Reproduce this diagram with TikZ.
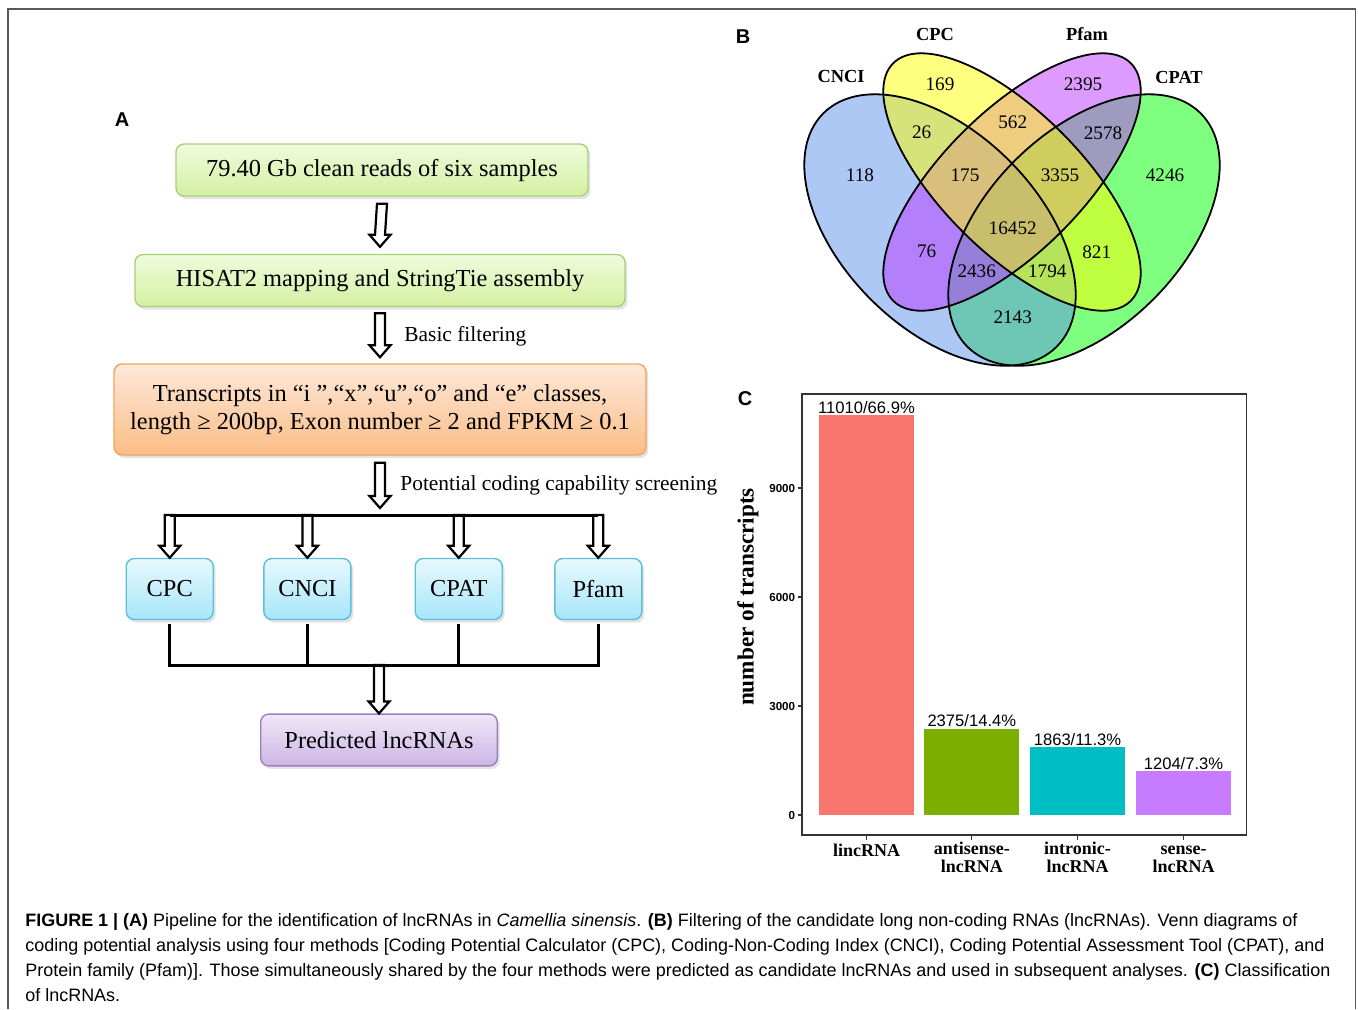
\documentclass[tikz,border=0pt]{standalone}
\usepackage{fontspec}
\setmainfont{Liberation Serif}
\setsansfont{Liberation Sans}
\usetikzlibrary{calc,positioning,shadows}

\definecolor{greentop}{HTML}{F0FBDC}
\definecolor{greenbot}{HTML}{D3F0A2}
\definecolor{greenedge}{HTML}{A9CF7C}
\definecolor{orangetop}{HTML}{FDE9DA}
\definecolor{orangebot}{HTML}{FBBD86}
\definecolor{orangeedge}{HTML}{F3A35C}
\definecolor{cyantop}{HTML}{E8F8FD}
\definecolor{cyanbot}{HTML}{A6E6FA}
\definecolor{cyanedge}{HTML}{5DBFD9}
\definecolor{lilactop}{HTML}{F0E7F7}
\definecolor{lilacbot}{HTML}{CDB5E6}
\definecolor{lilacedge}{HTML}{9B7FC0}
\definecolor{cncifill}{rgb}{0.36,0.57,0.92}
\definecolor{cpcfill}{rgb}{1,1,0}
\definecolor{pfamfill}{rgb}{0.74,0.22,1}
\definecolor{cpatfill}{rgb}{0,1,0}
\definecolor{lincbar}{HTML}{F8766D}
\definecolor{antibar}{HTML}{7CAE00}
\definecolor{intronbar}{HTML}{00BFC4}
\definecolor{sensebar}{HTML}{C77CFF}

\tikzset{
  flowbox/.style={draw, rounded corners=4pt, line width=0.7pt, align=center,
    inner sep=0pt, font=\fontsize{12.2}{14.2}\selectfont,
    drop shadow={opacity=0.22, shadow xshift=1.2pt, shadow yshift=-1.5pt}},
  greenbox/.style={flowbox, draw=greenedge, top color=greentop, bottom color=greenbot},
  orangebox/.style={flowbox, draw=orangeedge, top color=orangetop, bottom color=orangebot},
  toolbox/.style={flowbox, draw=cyanedge, top color=cyantop, bottom color=cyanbot,
    minimum width=43.5pt, minimum height=30.5pt},
  lilacbox/.style={flowbox, draw=lilacedge, top color=lilactop, bottom color=lilacbot},
  arrowline/.style={draw=black, line width=1.1pt, fill=white, line join=miter},
  barline/.style={line width=1.5pt},
  steplabel/.style={anchor=base west, inner sep=0pt, font=\fontsize{10.7}{13}\selectfont},
  panellabel/.style={font=\sffamily\bfseries\fontsize{10}{12}\selectfont},
  setname/.style={font=\bfseries\fontsize{9.2}{11}\selectfont},
  vnum/.style={font=\fontsize{9.6}{11}\selectfont},
  barval/.style={font=\sffamily\fontsize{8.3}{10}\selectfont, inner sep=0.6pt, anchor=south},
  ticklab/.style={font=\sffamily\bfseries\fontsize{5.8}{7}\selectfont, anchor=east, inner sep=0pt},
  catlab/.style={font=\bfseries\fontsize{9}{9.2}\selectfont, anchor=base, inner sep=0pt},
  captionline/.style={anchor=base west, inner sep=0pt, font=\sffamily\fontsize{8.98}{10}\selectfont}
}

% hollow block arrow, pointing down
\newcommand{\hollowarrow}[3][7]{%
  \draw[arrowline] ($(#2)+(-5,#1)$) -- ($(#3)+(-5,-#1-12)$)
    -- ($(#3)+(-10.5,-#1-12)$) -- ($(#3)+(0,-#1)$) -- ($(#3)+(10.5,-#1-12)$)
    -- ($(#3)+(5,-#1-12)$) -- ($(#2)+(5,#1)$) -- cycle;}

\begin{document}
\begin{tikzpicture}[x=0.5pt, y=-0.5pt]
  \useasboundingbox (0,0) rectangle (1358,1009);
  \draw[black!65, line width=0.8pt] (8,1009) -- (8,9) -- (1355.5,9) -- (1355.5,1009);

  % A: pipeline
  \node[panellabel] (labA) at (122,120) {A};
  \node[greenbox, minimum width=206pt, minimum height=26pt] (reads) at (382,170)
    {79.40 Gb clean reads of six samples};
  \node[greenbox, minimum width=245pt, minimum height=26pt] (mapping) at (380,280.5)
    {HISAT2 mapping and StringTie assembly};
  \node[orangebox, minimum width=266pt, minimum height=45.5pt] (filter) at (380,409.5)
    {Transcripts in “i ”,“x”,“u”,“o” and “e” classes,\\
     length ≥ 200bp, Exon number ≥ 2 and FPKM ≥ 0.1};
  \node[toolbox] (cpc) at (169.75,589) {CPC};
  \node[toolbox] (cnci) at (307.4,589) {CNCI};
  \node[toolbox] (cpat) at (458.75,589) {CPAT};
  \node[toolbox] (pfam) at (598.3,589) {Pfam};
  \node[lilacbox, minimum width=118.3pt, minimum height=25.9pt] (predicted) at (379,740)
    {Predicted lncRNAs};

  \coordinate (split) at (380,515);
  \coordinate (merge) at (379,665);
  \foreach \t in {cpc,cnci,cpat,pfam}
    \coordinate (\t top) at (\t.north |- split);

  \hollowarrow{reads.south}{mapping.north}
  \hollowarrow[6]{mapping.south}{filter.north}
  \hollowarrow{filter.south}{split}
  \foreach \t in {cpc,cnci,cpat,pfam}{
    \hollowarrow[0]{\t top}{\t.north}
  }
  \hollowarrow[0]{merge}{predicted.north}

  \draw[barline] (cpctop) -- (pfamtop);
  \draw[barline] ([yshift=-2pt]cpc.south) |- (merge) -| ([yshift=-2pt]pfam.south);
  \draw[barline] ([yshift=-2pt]cnci.south) -- (cnci.south |- merge);
  \draw[barline] ([yshift=-2pt]cpat.south) -- (cpat.south |- merge);

  \node[steplabel] (basic) at (404,341.7) {Basic filtering};
  \node[steplabel] (screen) at (400,490) {Potential coding capability screening};

  % B: Venn diagram
  \node[panellabel] (labB) at (743,37) {B};
  \begin{scope}[fill opacity=0.5]
    \fill[cpatfill, rotate around={45:(1084,230)}] (1084,230) ellipse [x radius=165, y radius=98];
    \fill[cncifill, rotate around={-45:(940,230)}] (940,230) ellipse [x radius=165, y radius=98];
    \fill[pfamfill, rotate around={45:(1012,182)}] (1012,182) ellipse [x radius=168, y radius=70];
    \fill[cpcfill, rotate around={-45:(1012,182)}] (1012,182) ellipse [x radius=168, y radius=70];
  \end{scope}
  \begin{scope}[line width=0.9pt]
    \draw[rotate around={45:(1084,230)}] (1084,230) ellipse [x radius=165, y radius=98];
    \draw[rotate around={-45:(940,230)}] (940,230) ellipse [x radius=165, y radius=98];
    \draw[rotate around={45:(1012,182)}] (1012,182) ellipse [x radius=168, y radius=70];
    \draw[rotate around={-45:(1012,182)}] (1012,182) ellipse [x radius=168, y radius=70];
  \end{scope}
  \node[setname] (nCNCI) at (841,76) {CNCI};
  \node[setname] (nCPC) at (935,34) {CPC};
  \node[setname] (nPfam) at (1087,34) {Pfam};
  \node[setname] (nCPAT) at (1179,77) {CPAT};
  \foreach \vx/\vy/\num in {940/84/169, 1083/84/2395, 1012.7/122.7/562, 921.7/132.7/26,
      1103/132.7/2578, 860/175/118, 965/175/175, 1060/175/3355, 1165/175/4246,
      1012.7/228.3/16452, 926.7/251.7/76, 1096.7/251.7/821, 976.7/271.7/2436,
      1047.3/271.7/1794, 1012.7/317.3/2143}
    \node[vnum] (v\num) at (\vx,\vy) {\num};

  % C: bar chart
  \node[panellabel] (labC) at (745,399) {C};
  \draw[black!80, line width=0.55pt] (802,394) rectangle (1246.5,835);
  \foreach \bx/\val/\pct/\col in {819/11010/66.9/lincbar, 924.3/2375/14.4/antibar,
      1030/1863/11.3/intronbar, 1136/1204/7.3/sensebar} {
    \fill[\col] (\bx,815) rectangle ({\bx+95},{815-\val*0.036333});
    \node[barval] at ({\bx+47.5},{815-\val*0.036333}) {\val/\pct\%};
    \draw[black!80, line width=0.55pt] ({\bx+47.5},835) -- ({\bx+47.5},840);
  }
  \foreach \t in {0,3000,6000,9000} {
    \draw[black!80, line width=0.55pt] (797.5,{815-\t*0.036333}) -- (802,{815-\t*0.036333});
    \node[ticklab] at (795.5,{815-\t*0.036333}) {\t};
  }
  \node[catlab] (cLinc) at (866.5,856.7) {lincRNA};
  \node[catlab] (cAnti) at (971.8,854.3) {antisense-};
  \node[catlab] (cAnti2) at (971.8,872.7) {lncRNA};
  \node[catlab] (cIntr) at (1077.5,854.3) {intronic-};
  \node[catlab] (cIntr2) at (1077.5,872.7) {lncRNA};
  \node[catlab] (cSens) at (1183.5,854.3) {sense-};
  \node[catlab] (cSens2) at (1183.5,872.7) {lncRNA};
  \node[rotate=90, font=\bfseries\fontsize{11.6}{13}\selectfont] (ytitle) at (748,597)
    {number of transcripts};

  % caption
  \node[captionline] (cap1) at (25,926.5) {\textbf{FIGURE 1 | (A)} Pipeline for the identification of lncRNAs in \textit{Camellia sinensis}. \textbf{(B)} Filtering of the candidate long non-coding RNAs (lncRNAs). Venn diagrams of};
  \node[captionline] (cap2) at (25,951.5) {coding potential analysis using four methods [Coding Potential Calculator (CPC), Coding-Non-Coding Index (CNCI), Coding Potential Assessment Tool (CPAT), and};
  \node[captionline] (cap3) at (25,976.5) {Protein family (Pfam)]. Those simultaneously shared by the four methods were predicted as candidate lncRNAs and used in subsequent analyses. \textbf{(C)} Classification};
  \node[captionline] (cap4) at (25,1001.5) {of lncRNAs.};
\end{tikzpicture}
\end{document}
